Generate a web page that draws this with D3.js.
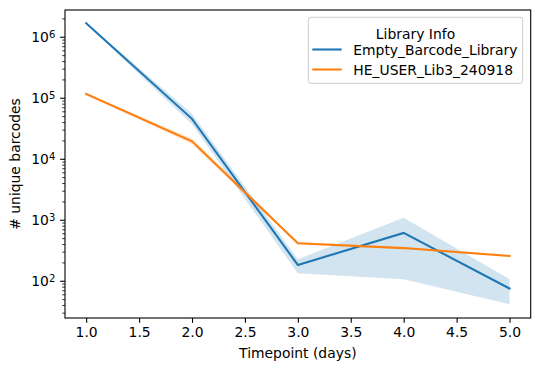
<!DOCTYPE html>
<html><head><meta charset="utf-8">
<script src="https://cdn.jsdelivr.net/npm/d3@7"></script>
<style>body{margin:0;background:#fff}svg{display:block;font-family:"DejaVu Sans",sans-serif}</style>
</head><body>
<script>
const timepoints = [1, 2, 3, 4, 5];
const seriesNames = ["Empty_Barcode_Library", "HE_USER_Lib3_240918"];
const emptyMean = [1.7e6, 4.6e4, 185, 620, 76];
const emptyLow  = [1.65e6, 3.75e4, 135, 108, 42];
const emptyHigh = [1.75e6, 5.6e4, 230, 1100, 108];
const heMean = [1.18e5, 1.97e4, 420, 350, 260];
const heLow  = [1.15e5, 1.76e4, 405, 338, 250];
const heHigh = [1.21e5, 2.2e4, 435, 362, 270];
const xTicks = [1.0, 1.5, 2.0, 2.5, 3.0, 3.5, 4.0, 4.5, 5.0];
const yTickExps = [2, 3, 4, 5, 6];
const colors = ["#1f77b4", "#ff7f0e"];

const W = 539, H = 371;
const m = {l: 65, r: 8.3, t: 10, b: 53};
const svg = d3.select("body").append("svg").attr("width", W).attr("height", H);
const x = d3.scaleLinear().domain([0.8, 5.2]).range([m.l, W - m.r]);
const y = d3.scaleLog().domain([25, 2.8e6]).range([H - m.b, m.t]);

const series = [
  {name: seriesNames[0], mean: emptyMean, low: emptyLow, high: emptyHigh, color: colors[0]},
  {name: seriesNames[1], mean: heMean, low: heLow, high: heHigh, color: colors[1]}
];

const clipId = "clip";
svg.append("clipPath").attr("id", clipId).append("rect")
  .attr("x", m.l).attr("y", m.t).attr("width", W - m.r - m.l).attr("height", H - m.b - m.t);
const g = svg.append("g").attr("clip-path", `url(#${clipId})`);

const area = d3.area().x((d, i) => x(timepoints[i])).y0(d => y(d[0])).y1(d => y(d[1]));
const line = d3.line().x((d, i) => x(timepoints[i])).y(d => y(d));
series.forEach(s => {
  g.append("path").datum(s.low.map((v, i) => [v, s.high[i]]))
    .attr("d", area).attr("fill", s.color).attr("fill-opacity", 0.2).attr("stroke", "none");
});
series.forEach(s => {
  g.append("path").datum(s.mean).attr("d", line).attr("fill", "none")
    .attr("stroke", s.color).attr("stroke-width", 2.08).attr("stroke-linecap", "square");
});

// axes
const fs = 13.9;
const xAxis = svg.append("g").attr("transform", `translate(0,${H - m.b})`)
  .call(d3.axisBottom(x).tickValues(xTicks).tickFormat(d3.format(".1f")).tickSize(4.86).tickPadding(4.4));
xAxis.select(".domain").remove();
xAxis.selectAll("line").attr("stroke", "#000").attr("stroke-width", 1.1);
xAxis.selectAll("text").attr("font-size", fs).attr("fill", "#000").attr("font-family", "DejaVu Sans");

// y axis: major and minor ticks
const yAxisG = svg.append("g").attr("transform", `translate(${m.l},0)`);
const minorVals = [];
for (let e = 1; e <= 6; e++) for (let k = 2; k <= 9; k++) {
  const v = k * Math.pow(10, e);
  if (v >= y.domain()[0] && v <= y.domain()[1]) minorVals.push(v);
}
yAxisG.selectAll(".minor").data(minorVals).join("line")
  .attr("x1", 0).attr("x2", -2.78).attr("y1", d => y(d)).attr("y2", d => y(d))
  .attr("stroke", "#000").attr("stroke-width", 0.8);
const majors = yAxisG.selectAll(".major").data(yTickExps).join("g")
  .attr("transform", d => `translate(0,${y(Math.pow(10, d))})`);
majors.append("line").attr("x1", 0).attr("x2", -4.86).attr("stroke", "#000").attr("stroke-width", 1.1);
const lbl = majors.append("text").attr("x", -9.7).attr("dy", "0.36em").attr("text-anchor", "end")
  .attr("font-size", fs).attr("fill", "#000");
lbl.append("tspan").text("10");
lbl.append("tspan").attr("dy", "-0.45em").attr("font-size", fs * 0.72).text(d => d);

// frame
svg.append("rect").attr("x", m.l).attr("y", m.t).attr("width", W - m.r - m.l).attr("height", H - m.b - m.t)
  .attr("fill", "none").attr("stroke", "#000").attr("stroke-width", 1.1);

// labels
svg.append("text").attr("x", (m.l + W - m.r) / 2).attr("y", 358).attr("text-anchor", "middle")
  .attr("font-size", fs).text("Timepoint (days)");
svg.append("text").attr("transform", `translate(20,${(m.t + H - m.b) / 2}) rotate(-90)`)
  .attr("text-anchor", "middle").attr("font-size", fs).text("# unique barcodes");

// legend
const lg = svg.append("g");
lg.append("rect").attr("x", 308.3).attr("y", 17.3).attr("width", 214.4).attr("height", 66).attr("rx", 2.8)
  .attr("fill", "#fff").attr("fill-opacity", 0.8).attr("stroke", "#ccc");
lg.append("text").attr("x", 415.5).attr("y", 33.5).attr("text-anchor", "middle").attr("dy", "0.36em")
  .attr("font-size", fs).text("Library Info");
series.forEach((s, i) => {
  const yy = 49.5 + i * 20;
  lg.append("line").attr("x1", 312.3).attr("x2", 341.7).attr("y1", yy).attr("y2", yy)
    .attr("stroke", s.color).attr("stroke-width", 2.08);
  lg.append("text").attr("x", 353.3).attr("y", yy).attr("dy", "0.36em").attr("font-size", fs).text(s.name);
});
</script>
</body></html>
